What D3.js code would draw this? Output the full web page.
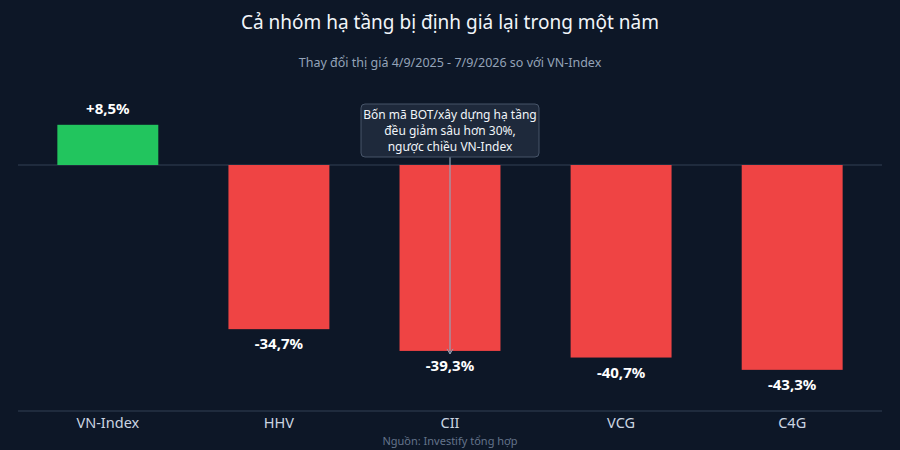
<!DOCTYPE html>
<html><head><meta charset="utf-8">
<script src="https://cdn.jsdelivr.net/npm/d3@7"></script>
<style>body{margin:0;background:#0d1727;}svg{display:block;font-family:"Noto Sans",sans-serif;}</style>
</head><body><svg id="c" width="900" height="450"></svg>
<script>
const categories = ["VN-Index","HHV","CII","VCG","C4G"];
const values = [8.5,-34.7,-39.3,-40.7,-43.3];
const labels = ["+8,5%","-34,7%","-39,3%","-40,7%","-43,3%"];
const svg = d3.select("#c");
svg.append("rect").attr("width",900).attr("height",450).attr("fill","#0d1727");
const x = d3.scaleBand().domain(categories).range([18,882]).paddingInner(0.41).paddingOuter(0.23);
const y = d3.scaleLinear().domain([-52,10]).range([411,117.7]);
svg.append("text").attr("x",450).attr("y",29).attr("text-anchor","middle").attr("fill","#f1f5f9").attr("font-size",19).text("Cả nhóm hạ tầng bị định giá lại trong một năm");
svg.append("text").attr("x",450).attr("y",67).attr("text-anchor","middle").attr("fill","#94a3b8").attr("font-size",12.5).text("Thay đổi thị giá 4/9/2025 - 7/9/2026 so với VN-Index");
svg.append("line").attr("x1",18).attr("x2",882).attr("y1",y(0)).attr("y2",y(0)).attr("stroke","#334155");
svg.selectAll(".b").data(values).join("rect")
 .attr("x",(d,i)=>x(categories[i])).attr("width",x.bandwidth())
 .attr("y",d=>y(Math.max(0,d))).attr("height",d=>Math.abs(y(d)-y(0)))
 .attr("fill",d=>d>=0?"#22c55e":"#ef4444");
svg.selectAll(".v").data(values).join("text")
 .attr("x",(d,i)=>x(categories[i])+x.bandwidth()/2)
 .attr("y",d=>d>=0?y(d)-11:y(d)+20)
 .attr("text-anchor","middle").attr("fill","#fff").attr("font-size",15).attr("font-weight","bold")
 .text((d,i)=>labels[i]);
const ax = svg.append("g").attr("transform","translate(0,411)").call(d3.axisBottom(x).tickSize(0).tickPadding(7));
ax.attr("font-family","Noto Sans");
ax.select(".domain").attr("stroke","#334155").attr("d","M18,0H882");
ax.selectAll("text").attr("fill","#cbd5e1").attr("font-size",14.5);
svg.append("text").attr("x",450).attr("y",445).attr("text-anchor","middle").attr("fill","#64748b").attr("font-size",11).text("Nguồn: Investify tổng hợp");
const cx = x("CII")+x.bandwidth()/2;
svg.append("line").attr("x1",cx).attr("x2",cx).attr("y1",157).attr("y2",y(-39.3)+3).attr("stroke","#94a3b8").attr("stroke-width",1.2);
svg.append("path").attr("d",`M${cx-3},${y(-39.3)-2}L${cx},${y(-39.3)+3}L${cx+3},${y(-39.3)-2}`).attr("fill","none").attr("stroke","#94a3b8");
svg.append("rect").attr("x",cx-89).attr("y",104).attr("width",178).attr("height",53).attr("rx",4).attr("fill","#1e293b").attr("stroke","#475569");
["Bốn mã BOT/xây dựng hạ tầng","đều giảm sâu hơn 30%,","ngược chiều VN-Index"].forEach((t,i)=>
 svg.append("text").attr("x",cx).attr("y",119+i*16).attr("text-anchor","middle").attr("fill","#f1f5f9").attr("font-size",12).text(t));
</script></body></html>
